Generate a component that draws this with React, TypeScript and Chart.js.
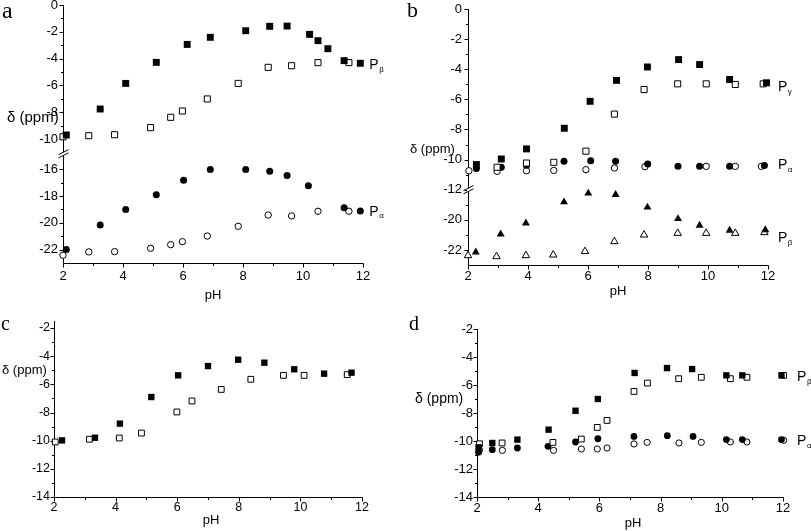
import React, { useEffect, useRef } from 'react';
import { Chart, registerables } from 'chart.js';

Chart.register(...registerables);

// ---------- shared axis values ----------
const X_MAJOR = [2, 4, 6, 8, 10, 12];
const X_MINOR = [3, 5, 7, 9, 11];

// ---------- panel a ----------
const A_PB_FILLED_PH = [2.11, 3.24, 4.09, 5.11, 6.14, 6.91, 8.09, 8.89, 9.47, 10.22, 10.5, 10.83, 11.37, 11.91];
const A_PB_FILLED_D = [-9.7, -7.76, -5.85, -4.28, -2.94, -2.41, -1.92, -1.59, -1.57, -2.19, -2.66, -3.26, -4.15, -4.35];
const A_PB_OPEN_PH = [2.0, 2.86, 3.72, 4.92, 5.59, 5.98, 6.81, 7.84, 8.84, 9.62, 10.5, 11.53];
const A_PB_OPEN_D = [-9.83, -9.75, -9.68, -9.15, -8.38, -7.91, -7.01, -5.85, -4.65, -4.53, -4.3, -4.3];
const A_PA_FILLED_PH = [2.11, 3.24, 4.09, 5.11, 6.02, 6.91, 8.09, 8.89, 9.47, 10.18, 11.37, 11.91];
const A_PA_FILLED_D = [-22.0, -20.17, -19.0, -17.91, -16.82, -16.02, -16.02, -16.15, -16.47, -17.24, -18.88, -19.12];
const A_PA_OPEN_PH = [2.0, 2.86, 3.72, 4.92, 5.59, 5.98, 6.81, 7.84, 8.84, 9.62, 10.5, 11.53];
const A_PA_OPEN_D = [-22.42, -22.17, -22.15, -21.9, -21.63, -21.41, -20.99, -20.26, -19.42, -19.49, -19.14, -19.14];
const A_Y_MAJOR = [0, -2, -4, -6, -8, -10, -16, -18, -20, -22];
const A_Y_MINOR = [-1, -3, -5, -7, -9, -17, -19, -21];

// ---------- panel b ----------
const B_PG_FILLED_PH = [2.28, 3.11, 3.95, 5.21, 6.07, 6.95, 7.98, 9.02, 9.72, 10.72, 11.95];
const B_PG_FILLED_D = [-10.33, -9.96, -9.29, -7.92, -6.13, -4.74, -3.85, -3.36, -3.69, -4.68, -4.9];
const B_PG_OPEN_PH = [2.97, 3.95, 4.86, 5.93, 6.88, 7.87, 8.99, 9.94, 10.91, 11.84];
const B_PG_OPEN_D = [-10.51, -10.23, -10.18, -9.44, -6.98, -5.35, -4.97, -4.97, -5.01, -4.97];
const B_PA_FILLED_PH = [2.28, 3.11, 3.95, 5.2, 6.09, 6.92, 7.99, 9.0, 9.72, 10.72, 11.88];
const B_PA_FILLED_D = [-10.6, -10.51, -10.38, -10.11, -10.07, -10.11, -10.29, -10.45, -10.45, -10.45, -10.4];
const B_PA_OPEN_PH = [2.03, 2.97, 3.95, 4.86, 5.93, 6.88, 7.9, 9.94, 10.91, 11.78];
const B_PA_OPEN_D = [-10.74, -10.78, -10.74, -10.72, -10.67, -10.56, -10.47, -10.45, -10.45, -10.45];
const B_PB_FILLED_PH = [2.26, 3.09, 3.93, 5.2, 6.01, 6.92, 7.98, 9.0, 9.72, 10.72, 11.91];
const B_PB_FILLED_D = [-22.15, -20.95, -20.22, -18.82, -18.24, -18.33, -19.17, -19.93, -20.37, -20.7, -20.67];
const B_PB_OPEN_PH = [2.0, 2.95, 3.93, 4.84, 5.9, 6.88, 7.87, 8.99, 9.94, 10.91, 11.88];
const B_PB_OPEN_D = [-22.37, -22.44, -22.37, -22.33, -22.1, -21.44, -21.0, -20.89, -20.89, -20.89, -20.84];
const B_Y_MAJOR = [0, -2, -4, -6, -8, -10, -12, -20, -22];
const B_Y_MINOR = [-1, -3, -5, -7, -9, -11, -19, -21];

// ---------- panel c ----------
const C_FILLED_PH = [2.26, 3.33, 4.14, 5.16, 6.03, 7.0, 7.98, 8.83, 9.8, 10.77, 11.66];
const C_FILLED_D = [-9.98, -9.79, -8.79, -6.9, -5.36, -4.7, -4.25, -4.46, -4.93, -5.24, -5.17];
const C_OPEN_PH = [2.04, 3.15, 4.12, 4.84, 5.99, 6.48, 7.43, 8.39, 9.45, 10.12, 11.52];
const C_OPEN_D = [-10.09, -9.9, -9.81, -9.46, -7.96, -7.18, -6.36, -5.64, -5.36, -5.36, -5.31];
const CD_Y_MAJOR = [-2, -4, -6, -8, -10, -12, -14];
const CD_Y_MINOR = [-3, -5, -7, -9, -11, -13];

// ---------- panel d ----------
const D_PB_FILLED_PH = [2.05, 2.5, 3.32, 4.34, 5.22, 5.95, 7.15, 8.21, 9.03, 10.15, 10.67, 11.95];
const D_PB_FILLED_D = [-10.45, -10.14, -9.9, -9.19, -7.84, -7.0, -5.14, -4.79, -4.86, -5.31, -5.31, -5.31];
const D_PB_OPEN_PH = [2.08, 2.82, 4.48, 5.41, 5.93, 6.25, 7.13, 7.57, 8.59, 9.33, 10.28, 10.82, 12.02];
const D_PB_OPEN_D = [-10.2, -10.14, -10.1, -9.86, -9.03, -8.53, -6.46, -5.86, -5.55, -5.45, -5.55, -5.45, -5.31];
const D_PA_FILLED_PH = [2.05, 2.5, 3.32, 4.32, 5.22, 5.95, 7.13, 8.22, 9.06, 10.15, 10.67, 11.95];
const D_PA_FILLED_D = [-10.8, -10.62, -10.5, -10.38, -10.07, -9.84, -9.67, -9.62, -9.67, -9.9, -9.9, -9.9];
const D_PA_OPEN_PH = [2.08, 2.83, 4.5, 5.41, 5.93, 6.25, 7.13, 7.56, 8.6, 9.33, 10.28, 10.82, 12.02];
const D_PA_OPEN_D = [-10.65, -10.67, -10.67, -10.57, -10.57, -10.5, -10.21, -10.1, -10.14, -10.1, -10.07, -10.07, -9.95];

const SANS = "'Liberation Sans', Arial, Helvetica, sans-serif";
const SERIF = "'Liberation Serif', 'Times New Roman', serif";

type Rect = { x: number; y: number; w: number; h: number };
type Area = { l: number; t: number; r: number; b: number };
type TextItem = { text: string; x: number; y: number; size: number; serif?: boolean; align?: CanvasTextAlign; baseline?: CanvasTextBaseline };
type PLabel = { sub: string; ph: number; d: number; size: number };

type PanelDef = {
  canvas: Rect;
  area: Area;
  yMin: number;
  yMax: number;
  toEq: (v: number) => number;
  yMajor: number[];
  yMinor: number[];
  breakEq?: number;
  tickSize: number;
  xPad: number;
  yPad: number;
  datasets: any[];
  texts: TextItem[];
  pLabels: PLabel[];
};

const ident = (v: number) => v;

function marker(kind: 'sq' | 'osq' | 'ci' | 'oci' | 'tri' | 'otri', r: number) {
  const filled = kind === 'sq' || kind === 'ci' || kind === 'tri';
  const style = kind === 'sq' || kind === 'osq' ? 'rect' : kind === 'ci' || kind === 'oci' ? 'circle' : 'triangle';
  return {
    pointStyle: style,
    pointRadius: r,
    pointHoverRadius: r,
    backgroundColor: filled ? '#000' : '#fff',
    borderColor: '#000',
    borderWidth: filled ? 0 : 1,
    pointBorderWidth: filled ? 0 : 1,
    showLine: false,
    clip: false,
  };
}

function series(xs: number[], ys: number[], toEq: (v: number) => number, kind: any, r: number) {
  return { data: xs.map((x, i) => ({ x, y: toEq(ys[i]) })), ...marker(kind, r) };
}

const toEqA = (v: number) => (v < -12 ? v + 3.75 : v);
const toEqB = (v: number) => (v < -13 ? v + 6 : v);

const PANELS: PanelDef[] = [
  {
    canvas: { x: 0, y: -10, w: 405, h: 320 },
    area: { l: 63, t: 5, r: 363, b: 263 },
    yMin: -19.25,
    yMax: 0,
    toEq: toEqA,
    yMajor: A_Y_MAJOR,
    yMinor: A_Y_MINOR,
    breakEq: -11.1,
    tickSize: 13,
    xPad: 6,
    yPad: 5,
    datasets: [
      series(A_PB_FILLED_PH, A_PB_FILLED_D, toEqA, 'sq', 4.9),
      series(A_PB_OPEN_PH, A_PB_OPEN_D, toEqA, 'osq', 4.3),
      series(A_PA_FILLED_PH, A_PA_FILLED_D, toEqA, 'ci', 3.5),
      series(A_PA_OPEN_PH, A_PA_OPEN_D, toEqA, 'oci', 3.2),
    ],
    texts: [
      { text: 'a', x: 2, y: 18, size: 24, serif: true, baseline: 'alphabetic' },
      { text: 'δ (ppm)', x: 7, y: 118, size: 15 },
      { text: 'pH', x: 213, y: 295, size: 13, align: 'center' },
    ],
    pLabels: [
      { sub: 'β', ph: 12.21, d: -4.48, size: 14 },
      { sub: 'α', ph: 12.21, d: -19.17, size: 14 },
    ],
  },
  {
    canvas: { x: 405, y: -10, w: 406, h: 320 },
    area: { l: 468, t: 9, r: 768, b: 265 },
    yMin: -17,
    yMax: 0,
    toEq: toEqB,
    yMajor: B_Y_MAJOR,
    yMinor: B_Y_MINOR,
    breakEq: -12,
    tickSize: 13,
    xPad: 4,
    yPad: 6,
    datasets: [
      series(B_PG_FILLED_PH, B_PG_FILLED_D, toEqB, 'sq', 4.9),
      series(B_PG_OPEN_PH, B_PG_OPEN_D, toEqB, 'osq', 4.3),
      series(B_PA_FILLED_PH, B_PA_FILLED_D, toEqB, 'ci', 3.5),
      series(B_PA_OPEN_PH, B_PA_OPEN_D, toEqB, 'oci', 3.2),
      series(B_PB_FILLED_PH, B_PB_FILLED_D, toEqB, 'tri', 4.6),
      series(B_PB_OPEN_PH, B_PB_OPEN_D, toEqB, 'otri', 4.3),
    ],
    texts: [
      { text: 'b', x: 407, y: 17, size: 22, serif: true, baseline: 'alphabetic' },
      { text: 'δ (ppm)', x: 410, y: 149, size: 13 },
      { text: 'pH', x: 618, y: 291, size: 13, align: 'center' },
    ],
    pLabels: [
      { sub: 'γ', ph: 12.33, d: -5.2, size: 14 },
      { sub: 'α', ph: 12.33, d: -10.4, size: 14 },
      { sub: 'β', ph: 12.33, d: -21.2, size: 14 },
    ],
  },
  {
    canvas: { x: 0, y: 300, w: 405, h: 231 },
    area: { l: 54, t: 321, r: 362, b: 497 },
    yMin: -14,
    yMax: -1.5,
    toEq: ident,
    yMajor: CD_Y_MAJOR,
    yMinor: CD_Y_MINOR,
    tickSize: 12.5,
    xPad: 3,
    yPad: 4,
    datasets: [
      series(C_FILLED_PH, C_FILLED_D, ident, 'sq', 4.5),
      series(C_OPEN_PH, C_OPEN_D, ident, 'osq', 4.1),
    ],
    texts: [
      { text: 'c', x: 1, y: 330, size: 20, serif: true, baseline: 'alphabetic' },
      { text: 'δ (ppm)', x: 2, y: 370, size: 13 },
      { text: 'pH', x: 211, y: 520, size: 13, align: 'center' },
    ],
    pLabels: [],
  },
  {
    canvas: { x: 405, y: 300, w: 406, h: 231 },
    area: { l: 477, t: 329, r: 783, b: 497 },
    yMin: -14,
    yMax: -2,
    toEq: ident,
    yMajor: CD_Y_MAJOR,
    yMinor: CD_Y_MINOR,
    tickSize: 13,
    xPad: 4,
    yPad: 4,
    datasets: [
      series(D_PB_FILLED_PH, D_PB_FILLED_D, ident, 'sq', 4.5),
      series(D_PB_OPEN_PH, D_PB_OPEN_D, ident, 'osq', 4.1),
      series(D_PA_FILLED_PH, D_PA_FILLED_D, ident, 'ci', 3.4),
      series(D_PA_OPEN_PH, D_PA_OPEN_D, ident, 'oci', 3.1),
    ],
    texts: [
      { text: 'd', x: 409, y: 330, size: 20, serif: true, baseline: 'alphabetic' },
      { text: 'δ (ppm)', x: 415, y: 399, size: 14 },
      { text: 'pH', x: 633, y: 523, size: 13, align: 'center' },
    ],
    pLabels: [
      { sub: 'β', ph: 12.46, d: -5.43, size: 14 },
      { sub: 'α', ph: 12.46, d: -10.0, size: 14 },
    ],
  },
];

const X_AXIS_H = 22;

function makeAxesPlugin(p: PanelDef) {
  return {
    id: 'customAxes',
    beforeDatasetsDraw(chart: any) {
      const { ctx, chartArea } = chart;
      const xs = chart.scales.x;
      const ys = chart.scales.y;
      const ax = Math.round(chartArea.left) + 0.5;
      const by = Math.round(chartArea.bottom) + 0.5;
      ctx.save();
      ctx.strokeStyle = '#000';
      ctx.lineWidth = 1;
      ctx.beginPath();
      ctx.moveTo(ax, Math.round(chartArea.top));
      ctx.lineTo(ax, by);
      ctx.lineTo(Math.round(chartArea.right) + 0.5, by);
      ctx.stroke();
      ctx.beginPath();
      for (const v of p.yMajor) {
        const y = Math.round(ys.getPixelForValue(p.toEq(v))) + 0.5;
        ctx.moveTo(ax - 4, y);
        ctx.lineTo(ax, y);
      }
      for (const v of p.yMinor) {
        const y = Math.round(ys.getPixelForValue(p.toEq(v))) + 0.5;
        ctx.moveTo(ax - 2.5, y);
        ctx.lineTo(ax, y);
      }
      for (const v of X_MAJOR) {
        const x = Math.round(xs.getPixelForValue(v)) + 0.5;
        ctx.moveTo(x, by);
        ctx.lineTo(x, by + 4);
      }
      for (const v of X_MINOR) {
        const x = Math.round(xs.getPixelForValue(v)) + 0.5;
        ctx.moveTo(x, by);
        ctx.lineTo(x, by + 2.5);
      }
      ctx.stroke();
      if (p.breakEq !== undefined) {
        const y = ys.getPixelForValue(p.breakEq);
        ctx.fillStyle = '#fff';
        ctx.fillRect(ax - 1.5, y - 1.5, 3, 3);
        ctx.beginPath();
        for (const o of [-1.6, 1.6]) {
          ctx.moveTo(ax - 5, y + o + 2.5);
          ctx.lineTo(ax + 5, y + o - 2.5);
        }
        ctx.stroke();
      }
      ctx.restore();
    },
    afterDraw(chart: any) {
      const { ctx } = chart;
      const xs = chart.scales.x;
      const ys = chart.scales.y;
      ctx.save();
      ctx.fillStyle = '#000';
      for (const t of p.texts) {
        ctx.font = `${t.size}px ${t.serif ? SERIF : SANS}`;
        ctx.textAlign = t.align || 'left';
        ctx.textBaseline = t.baseline || 'middle';
        ctx.fillText(t.text, t.x - p.canvas.x, t.y - p.canvas.y);
      }
      for (const l of p.pLabels) {
        const x = xs.getPixelForValue(l.ph);
        const y = ys.getPixelForValue(p.toEq(l.d));
        ctx.font = `${l.size}px ${SANS}`;
        ctx.textAlign = 'left';
        ctx.textBaseline = 'middle';
        ctx.fillText('P', x, y);
        const w = ctx.measureText('P').width;
        ctx.font = `${Math.round(l.size * 0.6)}px ${SANS}`;
        ctx.fillText(l.sub, x + w + 0.5, y + l.size * 0.32);
      }
      ctx.restore();
    },
  };
}

function buildConfig(p: PanelDef): any {
  const { canvas, area } = p;
  const yW = area.l - canvas.x;
  return {
    type: 'scatter',
    data: { datasets: p.datasets },
    options: {
      responsive: false,
      maintainAspectRatio: false,
      animation: false,
      devicePixelRatio: 1,
      events: [],
      layout: {
        padding: {
          left: 0,
          top: area.t - canvas.y,
          right: canvas.x + canvas.w - area.r,
          bottom: canvas.y + canvas.h - area.b - X_AXIS_H,
        },
      },
      plugins: { legend: { display: false }, tooltip: { enabled: false } },
      scales: {
        x: {
          type: 'linear',
          position: 'bottom',
          min: 2,
          max: 12,
          grid: { display: false, drawTicks: false },
          border: { display: false },
          afterBuildTicks: (s: any) => {
            s.ticks = X_MAJOR.map((v) => ({ value: v }));
          },
          afterFit: (s: any) => {
            s.height = X_AXIS_H;
          },
          ticks: {
            autoSkip: false,
            maxRotation: 0,
            padding: p.xPad,
            color: '#000',
            font: { family: SANS, size: p.tickSize },
            callback: (v: any) => String(v),
          },
        },
        y: {
          type: 'linear',
          position: 'left',
          min: p.yMin,
          max: p.yMax,
          grid: { display: false, drawTicks: false },
          border: { display: false },
          afterBuildTicks: (s: any) => {
            s.ticks = p.yMajor.map((v) => ({ value: p.toEq(v) }));
          },
          afterFit: (s: any) => {
            s.width = yW;
          },
          ticks: {
            autoSkip: false,
            padding: p.yPad,
            color: '#000',
            font: { family: SANS, size: p.tickSize },
            callback: (_v: any, i: number) => String(p.yMajor[i]),
          },
        },
      },
    },
    plugins: [makeAxesPlugin(p)],
  };
}

function Panel({ p }: { p: PanelDef }) {
  const ref = useRef<HTMLCanvasElement>(null);
  useEffect(() => {
    const chart = new Chart(ref.current as HTMLCanvasElement, buildConfig(p));
    return () => chart.destroy();
  }, [p]);
  return (
    <canvas
      ref={ref}
      width={p.canvas.w}
      height={p.canvas.h}
      style={{ position: 'absolute', left: p.canvas.x, top: p.canvas.y, width: p.canvas.w, height: p.canvas.h }}
    />
  );
}

export default function App() {
  return (
    <div style={{ position: 'absolute', left: 0, top: 0, width: 811, height: 531, background: '#fff', overflow: 'hidden' }}>
      {PANELS.map((p, i) => (
        <Panel key={i} p={p} />
      ))}
    </div>
  );
}
